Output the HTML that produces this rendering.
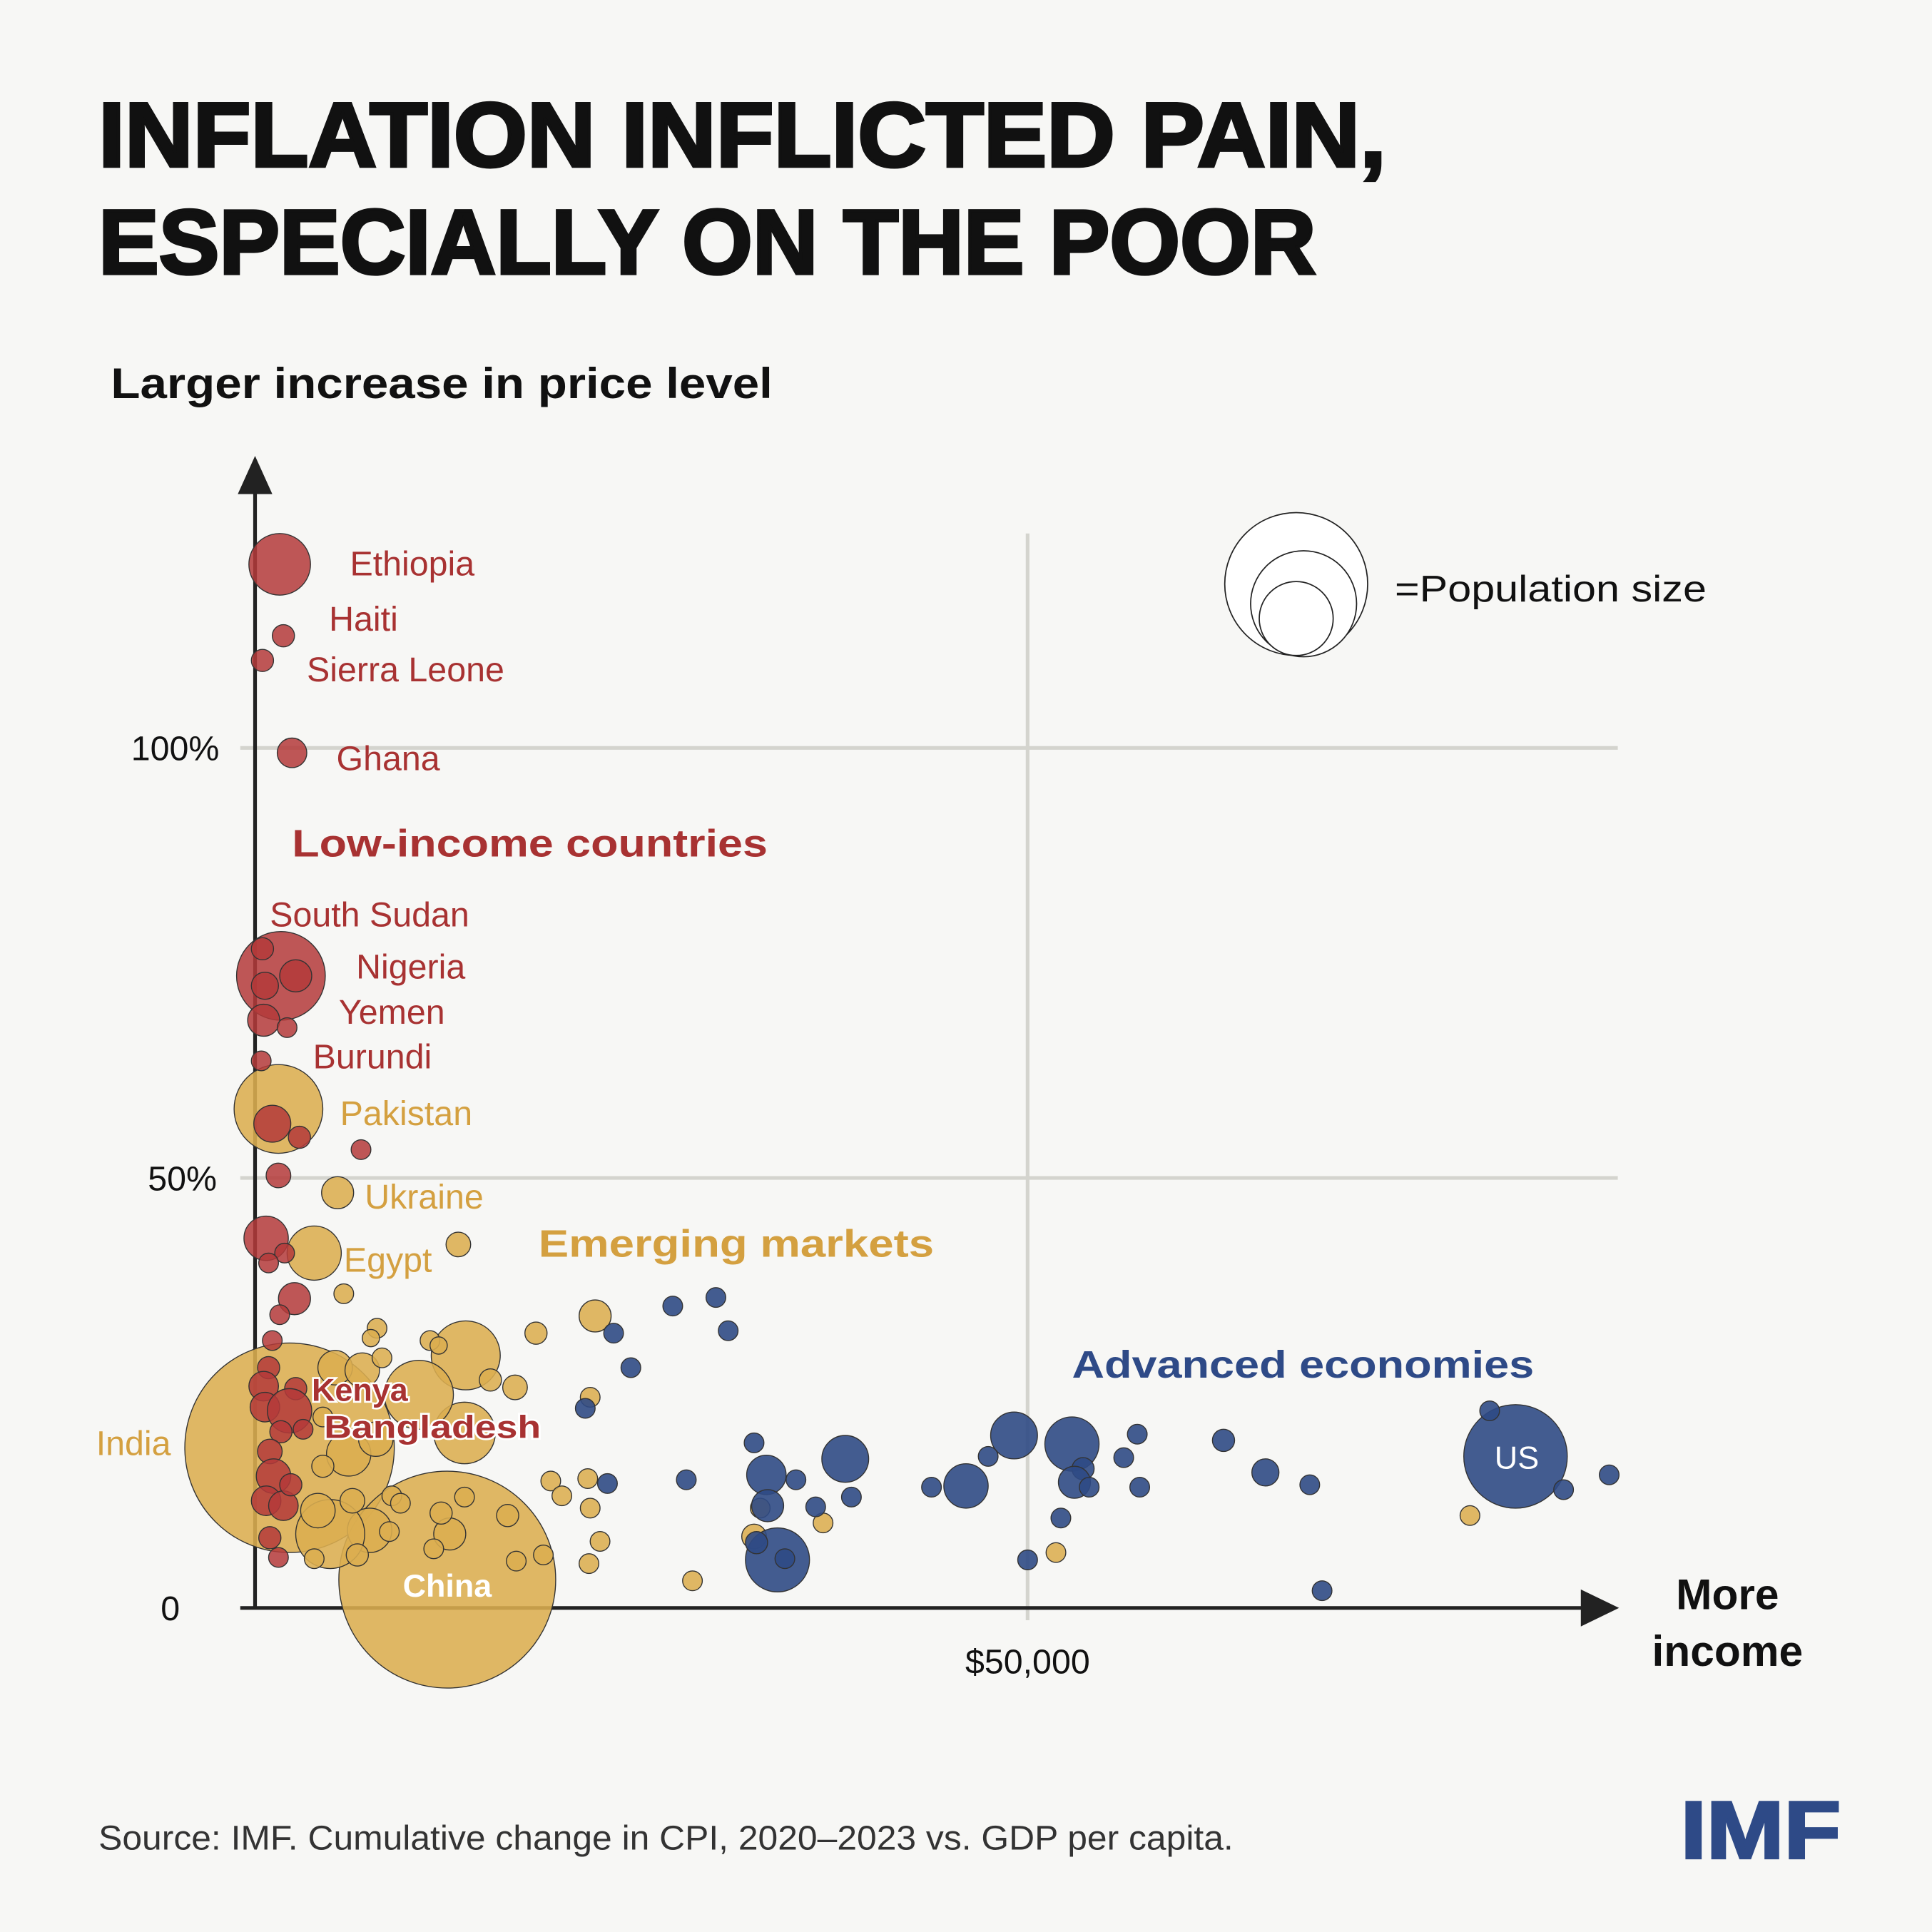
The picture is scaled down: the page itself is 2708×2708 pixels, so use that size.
<!DOCTYPE html>
<html><head><meta charset="utf-8"><style>
html,body{margin:0;padding:0;background:#f7f7f5}
svg{display:block}
text{font-family:"Liberation Sans",sans-serif}
</style></head><body>
<svg width="2708" height="2708" viewBox="0 0 1568 1568" xmlns="http://www.w3.org/2000/svg">
<rect width="1568" height="1568" fill="#f7f7f5"/>
<g font-weight="900" fill="#111" font-size="74" stroke="#111" stroke-width="2.5">
<text x="80" y="135" textLength="1045" lengthAdjust="spacingAndGlyphs">INFLATION INFLICTED PAIN,</text>
<text x="80" y="222" textLength="988" lengthAdjust="spacingAndGlyphs">ESPECIALLY ON THE POOR</text>
</g>
<text x="90" y="323" font-size="35" font-weight="bold" fill="#111" textLength="537" lengthAdjust="spacingAndGlyphs">Larger increase in price level</text>
<g stroke="#d4d4ce" stroke-width="3">
<line x1="195" y1="607" x2="1313" y2="607"/>
<line x1="195" y1="956" x2="1313" y2="956"/>
<line x1="834" y1="433" x2="834" y2="1315"/>
</g>
<g stroke="#222" stroke-width="3">
<line x1="207" y1="395" x2="207" y2="1306"/>
<line x1="195" y1="1305" x2="1290" y2="1305"/>
</g>
<polygon points="207,370 193,401 221,401" fill="#222"/>
<polygon points="1314,1305 1283,1290 1283,1320" fill="#222"/>
<g font-size="28" fill="#111" text-anchor="end">
<text x="178" y="617">100%</text><text x="176" y="966">50%</text><text x="146" y="1315">0</text>
</g>
<text x="834" y="1358" font-size="28" fill="#111" text-anchor="middle">$50,000</text>
<g font-size="35" font-weight="bold" fill="#111" text-anchor="middle">
<text x="1402" y="1306">More</text><text x="1402" y="1352">income</text>
</g>
<g fill="#fff" stroke="#222" stroke-width="1">
<circle cx="1052" cy="474" r="58"/><circle cx="1058" cy="490" r="43"/><circle cx="1052" cy="502" r="30"/>
</g>
<text x="1132" y="488" font-size="30" fill="#111" textLength="253" lengthAdjust="spacingAndGlyphs">=Population size</text>
<g stroke="#333" stroke-width="0.8">
<g fill="#dcae50" fill-opacity="0.88">
<circle cx="235" cy="1175" r="85"/>
<circle cx="363" cy="1282" r="88"/>
<circle cx="226" cy="900" r="36"/>
<circle cx="378" cy="1100" r="28"/><circle cx="377" cy="1163" r="25"/><circle cx="340" cy="1132" r="28"/>
<circle cx="255" cy="1017" r="22"/><circle cx="274" cy="968" r="13"/><circle cx="279" cy="1050" r="8"/>
<circle cx="372" cy="1010" r="10"/><circle cx="483" cy="1068" r="13"/><circle cx="435" cy="1082" r="9"/>
<circle cx="306" cy="1078" r="8"/><circle cx="301" cy="1086" r="7"/><circle cx="349" cy="1088" r="8"/><circle cx="356" cy="1092" r="7"/>
<circle cx="272" cy="1110" r="14"/><circle cx="294" cy="1112" r="14"/><circle cx="310" cy="1102" r="8"/>
<circle cx="398" cy="1120" r="9"/><circle cx="418" cy="1126" r="10"/><circle cx="479" cy="1134" r="8"/>
<circle cx="283" cy="1180" r="18"/><circle cx="305" cy="1168" r="14"/><circle cx="262" cy="1150" r="8"/>
<circle cx="300" cy="1242" r="18"/><circle cx="268" cy="1245" r="28"/><circle cx="258" cy="1226" r="14"/>
<circle cx="286" cy="1218" r="10"/><circle cx="318" cy="1214" r="8"/><circle cx="325" cy="1220" r="8"/>
<circle cx="365" cy="1245" r="13"/><circle cx="358" cy="1228" r="9"/><circle cx="377" cy="1215" r="8"/>
<circle cx="352" cy="1257" r="8"/><circle cx="412" cy="1230" r="9"/><circle cx="419" cy="1267" r="8"/>
<circle cx="441" cy="1262" r="8"/><circle cx="447" cy="1202" r="8"/><circle cx="456" cy="1214" r="8"/>
<circle cx="477" cy="1200" r="8"/><circle cx="479" cy="1224" r="8"/><circle cx="487" cy="1251" r="8"/>
<circle cx="478" cy="1269" r="8"/><circle cx="562" cy="1283" r="8"/><circle cx="617" cy="1224" r="8"/>
<circle cx="612" cy="1247" r="10"/><circle cx="668" cy="1236" r="8"/><circle cx="1193" cy="1230" r="8"/>
<circle cx="857" cy="1260" r="8"/><circle cx="255" cy="1265" r="8"/><circle cx="290" cy="1262" r="9"/>
<circle cx="316" cy="1243" r="8"/><circle cx="262" cy="1190" r="9"/>
</g>
<g fill="#b43a3a" fill-opacity="0.85">
<circle cx="227" cy="458" r="25"/><circle cx="230" cy="516" r="9"/><circle cx="213" cy="536" r="9"/>
<circle cx="237" cy="611" r="12"/><circle cx="228" cy="792" r="36"/><circle cx="240" cy="792" r="13"/>
<circle cx="213" cy="770" r="9"/><circle cx="215" cy="800" r="11"/><circle cx="214" cy="828" r="13"/>
<circle cx="233" cy="834" r="8"/><circle cx="212" cy="861" r="8"/><circle cx="221" cy="912" r="15"/>
<circle cx="243" cy="923" r="9"/><circle cx="293" cy="933" r="8"/><circle cx="226" cy="954" r="10"/>
<circle cx="216" cy="1005" r="18"/><circle cx="231" cy="1017" r="8"/><circle cx="218" cy="1025" r="8"/>
<circle cx="239" cy="1054" r="13"/><circle cx="227" cy="1067" r="8"/><circle cx="221" cy="1088" r="8"/>
<circle cx="218" cy="1110" r="9"/><circle cx="214" cy="1125" r="12"/><circle cx="240" cy="1127" r="9"/>
<circle cx="215" cy="1142" r="12"/><circle cx="235" cy="1145" r="18"/><circle cx="228" cy="1162" r="9"/>
<circle cx="219" cy="1178" r="10"/><circle cx="222" cy="1198" r="14"/><circle cx="216" cy="1218" r="12"/>
<circle cx="230" cy="1222" r="12"/><circle cx="236" cy="1205" r="9"/><circle cx="219" cy="1248" r="9"/>
<circle cx="226" cy="1264" r="8"/><circle cx="246" cy="1160" r="8"/>
</g>
<g fill="#2f4a85" fill-opacity="0.9">
<circle cx="1230" cy="1182" r="42"/><circle cx="823" cy="1165" r="19"/><circle cx="870" cy="1172" r="22"/>
<circle cx="686" cy="1184" r="19"/><circle cx="784" cy="1206" r="18"/><circle cx="631" cy="1266" r="26"/>
<circle cx="622" cy="1197" r="16"/><circle cx="623" cy="1222" r="13"/><circle cx="546" cy="1060" r="8"/>
<circle cx="581" cy="1053" r="8"/><circle cx="591" cy="1080" r="8"/><circle cx="498" cy="1082" r="8"/>
<circle cx="512" cy="1110" r="8"/><circle cx="475" cy="1143" r="8"/><circle cx="493" cy="1204" r="8"/>
<circle cx="557" cy="1201" r="8"/><circle cx="612" cy="1171" r="8"/><circle cx="646" cy="1201" r="8"/>
<circle cx="662" cy="1223" r="8"/><circle cx="691" cy="1215" r="8"/><circle cx="756" cy="1207" r="8"/>
<circle cx="802" cy="1182" r="8"/><circle cx="879" cy="1192" r="9"/><circle cx="872" cy="1203" r="13"/>
<circle cx="884" cy="1207" r="8"/><circle cx="861" cy="1232" r="8"/><circle cx="834" cy="1266" r="8"/>
<circle cx="912" cy="1183" r="8"/><circle cx="923" cy="1164" r="8"/><circle cx="925" cy="1207" r="8"/>
<circle cx="993" cy="1169" r="9"/><circle cx="1027" cy="1195" r="11"/><circle cx="1063" cy="1205" r="8"/>
<circle cx="1073" cy="1291" r="8"/><circle cx="1209" cy="1145" r="8"/><circle cx="1269" cy="1209" r="8"/>
<circle cx="1306" cy="1197" r="8"/><circle cx="614" cy="1252" r="9"/><circle cx="637" cy="1265" r="8"/>
</g>
</g>
<g font-size="28" fill="#a83232">
<text x="284" y="467">Ethiopia</text><text x="267" y="512">Haiti</text><text x="249" y="553">Sierra Leone</text>
<text x="273" y="625">Ghana</text><text x="219" y="752">South Sudan</text><text x="289" y="794">Nigeria</text>
<text x="275" y="831">Yemen</text><text x="254" y="867">Burundi</text>
</g>
<g font-size="28" fill="#d4a040">
<text x="276" y="913">Pakistan</text><text x="296" y="981">Ukraine</text><text x="279" y="1032">Egypt</text>
<text x="78" y="1181">India</text>
</g>
<text x="237" y="695" font-size="31" font-weight="900" fill="#a83232" textLength="386" lengthAdjust="spacingAndGlyphs">Low-income countries</text>
<text x="437" y="1020" font-size="31" font-weight="900" fill="#d4a040" textLength="321" lengthAdjust="spacingAndGlyphs">Emerging markets</text>
<text x="870" y="1118" font-size="31" font-weight="900" fill="#2e4a87" textLength="375" lengthAdjust="spacingAndGlyphs">Advanced economies</text>
<g font-size="26" font-weight="bold" fill="#a83232" stroke="#fff" stroke-width="3" paint-order="stroke">
<text x="253" y="1137">Kenya</text><text x="263" y="1167" textLength="176" lengthAdjust="spacingAndGlyphs">Bangladesh</text>
</g>
<text x="363" y="1296" font-size="26" font-weight="bold" fill="#fff" text-anchor="middle">China</text>
<text x="1231" y="1192" font-size="26" fill="#fff" text-anchor="middle">US</text>
<text x="80" y="1501" font-size="28" fill="#333" textLength="921" lengthAdjust="spacingAndGlyphs">Source: IMF. Cumulative change in CPI, 2020–2023 vs. GDP per capita.</text>
<text x="1364" y="1508" font-size="66" font-weight="900" fill="#2e4a87" stroke="#2e4a87" stroke-width="2" textLength="130" lengthAdjust="spacingAndGlyphs">IMF</text>
</svg>
</body></html>
